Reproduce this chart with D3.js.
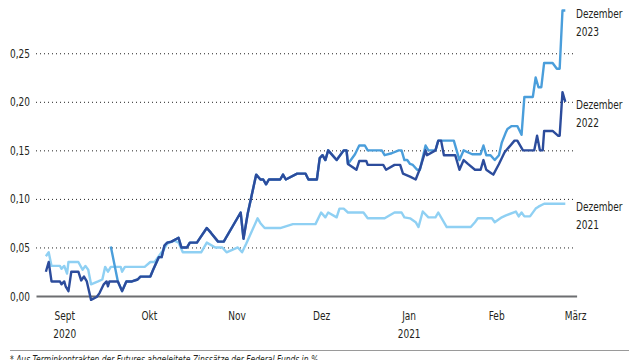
<!DOCTYPE html>
<html>
<head>
<meta charset="utf-8">
<script src="https://cdn.jsdelivr.net/npm/d3@7"></script>
<style>
  html, body { margin: 0; padding: 0; background: #fff; }
  svg { display: block; }
  text { font-family: "Liberation Sans Narrow", "DejaVu Sans Condensed", "Noto Sans", sans-serif; fill: #231f20; }
</style>
</head>
<body>
<svg id="chart" width="640" height="360"></svg>
<script>
// x values: days since 1 Sept 2020
const days2021 = [-6.5,-5.5,-4.5,-1.5,-1,0,1,1.5,5,6.5,7.5,8.5,9.5,12,13.5,14.5,15.5,16.5,20,20.5,21.5,28.5,30.5,32,34.5,35.5,36.5,39,40.5,42,48.5,50.5,53.5,56,57.5,61.5,63,64.5,68.5,69.5,71,76.5,81,89,91,92.5,93.5,96.5,97.5,99,100.5,106,107.5,113.5,117,119.5,120.5,122.5,124.5,125.5,127,129,131.5,132.5,135.5,144,145.5,146.5,151.5,152.5,155,156.5,160,161,162,163,165,167,168,170,177.5];
const val2021 = [0.041,0.045,0.031,0.031,0.028,0.031,0.023,0.035,0.035,0.027,0.031,0.027,0.012,0.015,0.017,0.030,0.025,0.030,0.030,0.025,0.030,0.030,0.035,0.035,0.045,0.049,0.054,0.057,0.055,0.045,0.045,0.055,0.050,0.050,0.045,0.050,0.045,0.054,0.080,0.075,0.070,0.070,0.074,0.074,0.086,0.081,0.086,0.081,0.090,0.090,0.086,0.086,0.080,0.080,0.086,0.086,0.081,0.080,0.076,0.071,0.087,0.081,0.081,0.086,0.071,0.071,0.076,0.080,0.080,0.076,0.081,0.083,0.087,0.082,0.086,0.082,0.082,0.090,0.092,0.095,0.095];

const days2022 = [-6.5,-5.5,-4.5,-1.5,-1,0,0.5,1.5,2.5,5,6,7,8,9.5,11.5,12.5,14,15,15.5,16,19,20.5,22,24,26,27,30.5,31.5,33.5,34.5,35.5,36.5,38,40.5,41.5,43.5,44.5,47,50.5,52,54.5,56.5,62.5,63.5,65,68,69.5,70.5,71.5,72.5,76.5,77.5,78.5,82.5,85.5,86.5,89.5,90.5,91.5,92.5,93.5,96.5,99,100,100.5,103.5,104.5,107,107.5,113,114,117,119,120,122.5,124.5,126,128,128.5,131.5,132.5,133.5,134.5,138.5,140,141.5,143,145.5,147.5,148.5,149.5,151,152,154,156,159.5,160.5,162.5,166.5,167.5,168.5,169.5,170,173,175,175.5,176.5,177.5];
const val2022 = [0.025,0.035,0.015,0.015,0.012,0.015,0.010,0.005,0.025,0.025,0.016,0.020,0.015,-0.004,-0.001,0.003,0.012,0.015,0.010,0.015,0.015,0.005,0.015,0.015,0.017,0.020,0.020,0.027,0.040,0.040,0.052,0.055,0.056,0.060,0.050,0.050,0.055,0.055,0.070,0.065,0.056,0.056,0.086,0.059,0.085,0.125,0.120,0.120,0.115,0.120,0.120,0.125,0.120,0.126,0.126,0.120,0.120,0.142,0.145,0.140,0.150,0.140,0.150,0.150,0.136,0.130,0.139,0.139,0.135,0.135,0.130,0.135,0.135,0.126,0.123,0.120,0.131,0.150,0.145,0.150,0.160,0.160,0.145,0.145,0.130,0.140,0.136,0.130,0.130,0.140,0.130,0.127,0.125,0.136,0.148,0.160,0.160,0.150,0.150,0.165,0.150,0.150,0.170,0.170,0.165,0.165,0.210,0.200];

const days2023 = [16.5,19,20.5,22,24,26,27,30.5,31.5,33.5,34.5,35.5,36.5,38,40.5,41.5,43.5,44.5,47,50.5,52,54.5,56.5,62.5,63.5,65,68,69.5,70.5,71.5,72.5,76.5,77.5,78.5,82.5,85.5,86.5,89.5,90.5,91.5,92.5,93.5,96.5,99,100,100.5,103,104.5,106.5,107.5,112.5,113.5,116,118.5,119.5,120.5,121.5,122.5,123.5,125,126,128,129,131.5,132.5,138,140,141.5,144.5,147.5,148.5,149.5,151,152.5,154,155,156.5,157,158.5,160.5,162,163,166,167,168,169,170,173,174.5,175.5,176.5,177.5];
const val2023 = [0.051,0.015,0.005,0.015,0.015,0.017,0.020,0.020,0.027,0.040,0.040,0.052,0.055,0.056,0.060,0.050,0.050,0.055,0.055,0.070,0.065,0.056,0.056,0.086,0.059,0.085,0.125,0.120,0.120,0.115,0.120,0.120,0.125,0.120,0.126,0.126,0.120,0.120,0.142,0.145,0.140,0.150,0.140,0.150,0.150,0.136,0.146,0.155,0.155,0.150,0.150,0.145,0.147,0.150,0.150,0.140,0.140,0.136,0.135,0.130,0.130,0.155,0.150,0.150,0.160,0.160,0.140,0.150,0.146,0.146,0.155,0.145,0.145,0.140,0.145,0.158,0.169,0.172,0.175,0.175,0.166,0.205,0.205,0.225,0.215,0.215,0.240,0.240,0.234,0.234,0.294,0.294];

const monthDays = [0, 30, 61, 91, 122, 153, 181];
const monthLabels = ["Sept", "Okt", "Nov", "Dez", "Jan", "Feb", "März"];
const yearLabels = ["2020", "", "", "", "2021", "", ""];
const yTicks = [0, 0.05, 0.10, 0.15, 0.20, 0.25];
const seriesNames = ["Dezember 2021", "Dezember 2022", "Dezember 2023"];
const footnote = "* Aus Terminkontrakten der Futures abgeleitete Zinssätze der Federal Funds in %";

const FONT = '"Liberation Sans Narrow", "DejaVu Sans Condensed", sans-serif';
const svg = d3.select("#chart");
const x = d3.scaleLinear().domain([-10, 181.5]).range([36, 576.6]);
const y = d3.scaleLinear().domain([0, 0.3]).range([296, 4.7]);
const fmt = v => d3.format(".2f")(v).replace(".", ",");

// y gridlines + labels
const gy = svg.append("g").attr("transform", "translate(36,0)")
  .call(d3.axisLeft(y).tickValues(yTicks).tickFormat(fmt).tickSize(-538).tickPadding(6));
gy.select(".domain").remove();
gy.selectAll(".tick line")
  .attr("stroke", "#222").attr("stroke-width", 1).attr("stroke-dasharray", "1,3")
  .attr("opacity", d => d === 0 ? 0 : 1);
gy.selectAll(".tick text").attr("font-size", 12.5).attr("fill", "#231f20").attr("font-family", FONT);

// x axis
const gx = svg.append("g").attr("transform", "translate(0,296)")
  .call(d3.axisBottom(x).tickValues(monthDays).tickFormat((d, i) => monthLabels[i]).tickSize(0).tickSizeOuter(0).tickPadding(15.5));
gx.select(".domain").attr("stroke", "#6d6e71").attr("stroke-width", 2.2);
gx.selectAll(".tick text").attr("font-size", 12.5).attr("fill", "#231f20").attr("font-family", FONT);
gx.selectAll(".tick").append("text")
  .attr("y", 33).attr("dy", "0.71em").attr("text-anchor", "middle")
  .attr("font-size", 12.5).attr("fill", "#231f20").attr("font-family", FONT)
  .text((d, i) => yearLabels[i]);

// lines
const line = d3.line().x(d => x(d[0])).y(d => y(d[1]));
const series = [
  { days: days2021, vals: val2021, color: "#8fd0f3" },
  { days: days2023, vals: val2023, color: "#4a9edb" },
  { days: days2022, vals: val2022, color: "#2c4c9c" }
];
series.forEach(s => {
  svg.append("path")
    .datum(s.days.map((d, i) => [d, s.vals[i]]))
    .attr("fill", "none").attr("stroke", s.color).attr("stroke-width", 2.4)
    .attr("stroke-linejoin", "round")
    .attr("d", line);
});

// end labels
const endLabels = [
  { name: seriesNames[2], yb: 18 },
  { name: seriesNames[1], yb: 109 },
  { name: seriesNames[0], yb: 211 }
];
endLabels.forEach(l => {
  const parts = l.name.split(" ");
  const t = svg.append("text").attr("x", 576).attr("y", l.yb).attr("font-size", 12.5);
  t.append("tspan").attr("x", 576).text(parts[0]);
  t.append("tspan").attr("x", 576).attr("dy", 18).text(parts[1]);
});

// footnote
svg.append("line").attr("x1", 10).attr("x2", 629).attr("y1", 350.5).attr("y2", 350.5)
  .attr("stroke", "#9a9a9a").attr("stroke-width", 1);
svg.append("text").attr("x", 10).attr("y", 362.5).attr("font-size", 10.5)
  .attr("font-style", "italic").text(footnote);

// condense all text horizontally to mimic the narrow typeface of the original
svg.selectAll("text").each(function () {
  const tspans = this.querySelectorAll("tspan");
  const els = tspans.length ? Array.from(tspans) : [this];
  els.forEach(el => {
    if (!el.textContent) return;
    const w = el.getComputedTextLength();
    el.setAttribute("textLength", (w * 0.8).toFixed(1));
    el.setAttribute("lengthAdjust", "spacingAndGlyphs");
  });
});
</script>
</body>
</html>
